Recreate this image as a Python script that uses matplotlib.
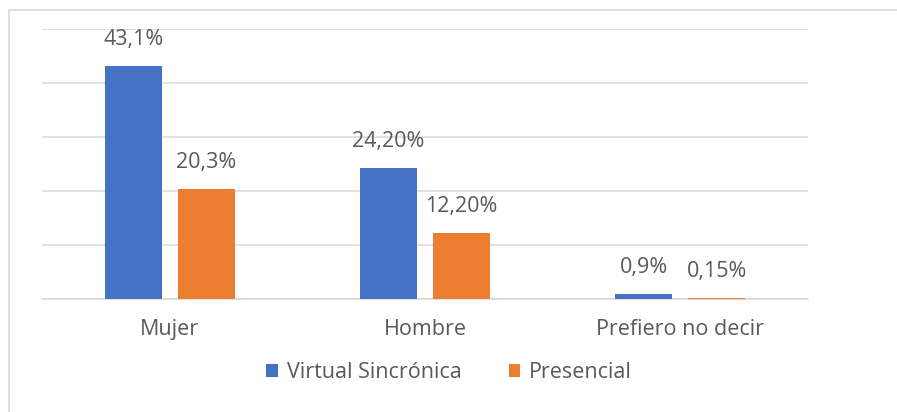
import matplotlib.pyplot as plt
import matplotlib.patches as mpatches
import numpy as np

# data
categorias = ['Mujer', 'Hombre', 'Prefiero no decir']
virtual = [43.1, 24.2, 0.9]
presencial = [20.3, 12.2, 0.15]
etiquetas_virtual = ['43,1%', '24,20%', '0,9%']
etiquetas_presencial = ['20,3%', '12,20%', '0,15%']

azul = '#4472c4'
naranja = '#ed7d31'
gris = '#595959'

plt.rcParams['font.family'] = ['Open Sans', 'DejaVu Sans']
fs = 15.5

fig = plt.figure(figsize=(8.97, 4.12), dpi=100)

# chart frame
fig.patches.append(mpatches.Rectangle((9 / 897, -0.1), 2.0, 1 - 10 / 412 + 0.1,
                                      transform=fig.transFigure, fill=False,
                                      edgecolor='#d9d9d9', lw=1.2))

ax = fig.add_axes([42 / 897, 1 - 299 / 412, 766 / 897, 270 / 412])

x = np.arange(len(categorias))
w = 0.224
off = 0.143
b1 = ax.bar(x - off, virtual, w, color=azul, label='Virtual Sincrónica', zorder=3)
b2 = ax.bar(x + off, presencial, w, color=naranja, label='Presencial', zorder=3)

for bars, labs in [(b1, etiquetas_virtual), (b2, etiquetas_presencial)]:
    for b, t in zip(bars, labs):
        ax.annotate(t, (b.get_x() + b.get_width() / 2, b.get_height()),
                    xytext=(0, 19), textcoords='offset points',
                    ha='center', va='center', fontsize=fs, color=gris)

ax.set_xlim(-0.5, 2.5)
ax.set_ylim(0, 50)
ax.set_yticks(np.arange(0, 51, 10))
ax.yaxis.grid(True, color='#d9d9d9', lw=1.1, zorder=0)
ax.tick_params(axis='y', left=False, labelleft=False)
ax.tick_params(axis='x', bottom=False, colors=gris, labelsize=fs, pad=11)
ax.set_xticks(x)
ax.set_xticklabels(categorias)
for s in ['top', 'right', 'left']:
    ax.spines[s].set_visible(False)
ax.spines['bottom'].set_color('#d9d9d9')
ax.spines['bottom'].set_linewidth(1.1)

leg = fig.legend(handles=[b1, b2], loc='center', bbox_to_anchor=(449 / 897, 1 - 373 / 412),
                 ncol=2, frameon=False, fontsize=fs, handlelength=0.55, handleheight=0.55,
                 handletextpad=0.4, columnspacing=2.2)
for t in leg.get_texts():
    t.set_color(gris)

fig.savefig('out.png', dpi=100)
